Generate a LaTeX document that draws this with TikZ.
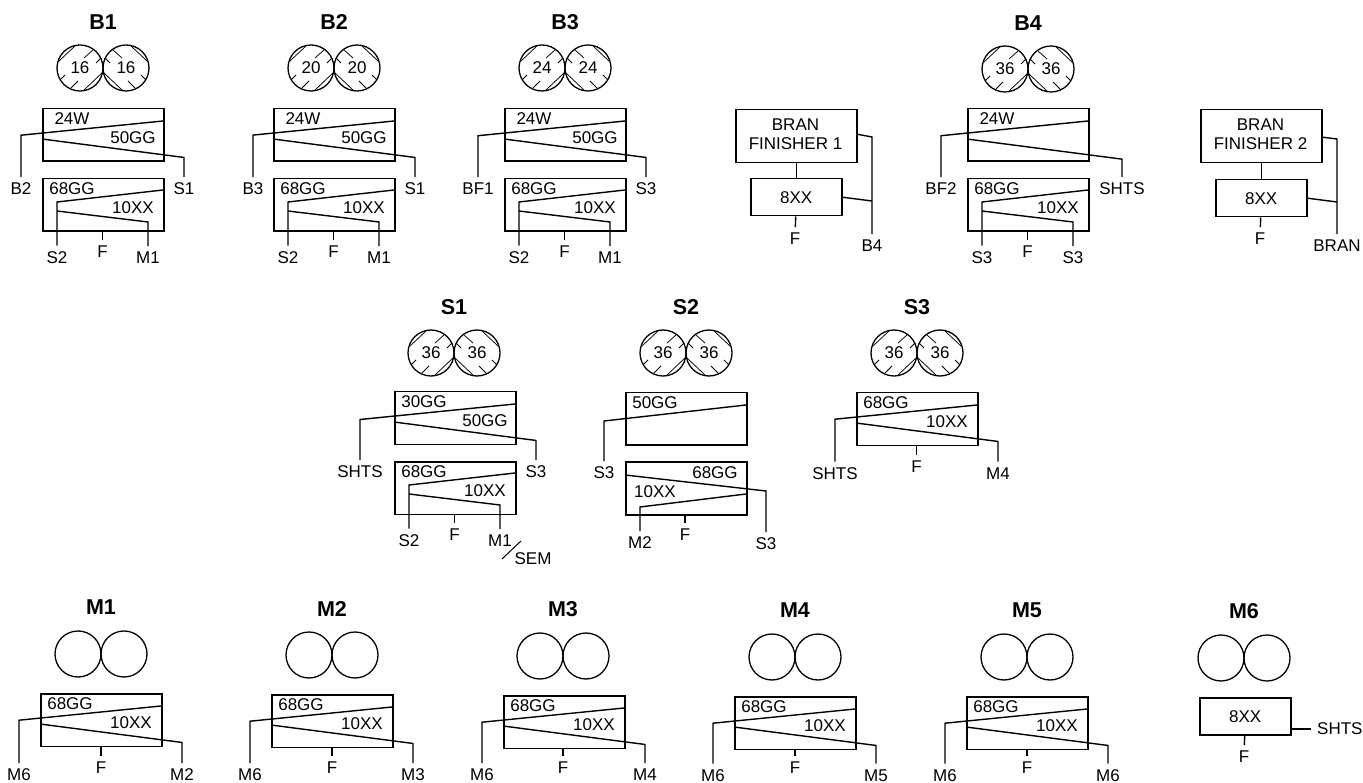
\documentclass[tikz,border=0pt]{standalone}
\usepackage{fontspec}
\setmainfont{Liberation Sans}
\usepackage{xcolor}
\tikzset{
  roll/.style={circle,draw=black,fill=none,line width=1.3pt,minimum size=46pt,inner sep=0pt,font=\fontsize{17}{19}\selectfont},
  hatch/.style={draw=black,line width=0.75pt},
  title/.style={inner sep=0pt,font=\fontsize{21.5}{23}\selectfont\bfseries},
  passbox/.style={draw=black,line width=1.5pt,anchor=north west,inner sep=0pt,minimum width=121pt},
  feed/.style={draw=black,line width=1.4pt},
  stream/.style={inner xsep=0pt,inner ysep=6pt,text height=11.5pt,text depth=0pt,font=\fontsize{17}{19}\selectfont},
  sieve/.style={inner sep=0pt,align=center,font=\fontsize{17}{19}\selectfont}
}
% rolls with their title, #3 is the point where they touch
\newcommand{\plainrolls}[3]{
  \begin{scope}[shift={(#3)}]
    \node[title] (#1title) at (0,-46.5) {#2};
    \node[roll] (#1l) at (-23,0) {};
    \node[roll] (#1r) at (23,0) {};
  \end{scope}}
\newcommand{\fluted}[4]{
  \begin{scope}[shift={(#3)}]
    \node[title] (#1title) at (0,-46) {#2};
    \node[roll] (#1l) at (-23,0) {#4};
    \node[roll] (#1r) at (23,0) {#4};
    \draw[hatch] (-44,-7)--(-28,-22) (-19,-10)--(-10,-18) (-7,-5)--(-2,-10)
      (-43,12)--(-38,7) (-32,20)--(-25,13) (-19,22)--(-1,5);
    \draw[hatch] (44,-7)--(28,-22) (19,-10)--(10,-18) (7,-5)--(2,-10)
      (43,12)--(38,7) (32,20)--(25,13) (19,22)--(1,5);
  \end{scope}}
% upper passage: one stream off each side, #8 and #9 are how far out they drop
\newcommand{\upperpass}[9]{
  \begin{scope}[shift={(#2)}]
    \node[passbox,minimum height=52.5pt] (#1) at (0,0) {};
    \node[sieve] (#1a) at (30,11) {#3};
    \node[sieve] (#1b) at (91,30) {#4};
    \coordinate (#1p) at (121,13);
    \coordinate (#1q) at (#8,{13+0.1*(121-(#8))});
    \coordinate (#1s) at (0,31);
    \coordinate (#1t) at (#9,{31+0.13*(#9)});
    \node[stream] (#1lo) at (#8,#7) {#5};
    \node[stream] (#1ro) at (#9,#7) {#6};
    \draw[feed] (#1p)--(#1q)--(#1lo.north);
    \draw[feed] (#1s)--(#1t)--(#1ro.north);
  \end{scope}}
% lower passage: both streams and the flour tick under the box
\newcommand{\lowerpass}[6]{
  \begin{scope}[shift={(#2)}]
    \node[passbox,minimum height=52.5pt] (#1) at (0,0) {};
    \node[sieve] (#1a) at (30,11) {#3};
    \node[sieve] (#1b) at (91,30) {#4};
    \coordinate (#1p) at (121,12);
    \coordinate (#1q) at (15,24);
    \coordinate (#1s) at (15,33);
    \coordinate (#1t) at (106,44);
    \node[stream] (#1lo) at (15,79.5) {#5};
    \node[stream] (#1ro) at (106,80) {#6};
    \node[stream] (#1f) at (60.5,74) {F};
    \draw[feed] (#1p)--(#1q)--(#1lo.north);
    \draw[feed] (#1s)--(#1t)--(#1ro.north);
    \draw[feed] (#1.south-|#1f)--(#1f.north);
  \end{scope}}
\begin{document}
\begin{tikzpicture}[x=1pt,y=-1pt]
  \useasboundingbox (0,0) rectangle (1363,783);
  % break rolls
  \fluted{bone}{B1}{103,68}{16}
  \fluted{btwo}{B2}{334,68}{20}
  \fluted{bthree}{B3}{565,68}{24}
  \fluted{bfour}{B4}{1028,69}{36}
  \upperpass{boneup}{42,108}{24W}{50GG}{B2}{S1}{81}{-21}{142}
  \lowerpass{bonelo}{42,178}{68GG}{10XX}{S2}{M1}
  \upperpass{btwoup}{273,108}{24W}{50GG}{B3}{S1}{81}{-20}{142}
  \lowerpass{btwolo}{273,178}{68GG}{10XX}{S2}{M1}
  \upperpass{bthreeup}{504,108}{24W}{50GG}{BF1}{S3}{81}{-26}{142}
  \lowerpass{bthreelo}{504,178}{68GG}{10XX}{S2}{M1}
  \upperpass{bfourup}{967,108}{24W}{}{BF2}{SHTS}{81}{-26}{155}
  \lowerpass{bfourlo}{967,178}{68GG}{10XX}{S3}{S3}
  % bran finishers
  \node[passbox,minimum height=53pt] (bfone) at (735,109) {};
  \node[sieve] (bfonetext) at (795.5,134) {BRAN\\FINISHER 1};
  \node[passbox,minimum width=91pt,minimum height=37pt] (bfonesc) at (750,178) {};
  \node[sieve] (bfonesctext) at (bfonesc.center) {8XX};
  \node[stream] (bfonef) at (795,239) {F};
  \node[stream] (bfoneo) at (872,246) {B4};
  \coordinate (bfonep) at (856,134);
  \coordinate (bfoneq) at (872,137);
  \coordinate (bfoner) at (841,197);
  \coordinate (bfones) at (872,201);
  \draw[feed] (bfone)--(bfonesc);
  \draw[feed] (bfonesc)--(bfonef);
  \draw[feed] (bfonep)--(bfoneq)--(bfoneo.north);
  \draw[feed] (bfoner)--(bfones);
  \node[passbox,minimum height=53pt] (bftwo) at (1200,109) {};
  \node[sieve] (bftwotext) at (1260.5,134.5) {BRAN\\FINISHER 2};
  \node[passbox,minimum width=91pt,minimum height=37pt] (bftwosc) at (1215,179) {};
  \node[sieve] (bftwosctext) at (bftwosc.center) {8XX};
  \node[stream] (bftwof) at (1260,239) {F};
  \node[stream] (bftwoo) at (1337,246) {BRAN};
  \coordinate (bftwop) at (1321,137);
  \coordinate (bftwoq) at (1337,139);
  \coordinate (bftwor) at (1306,198);
  \coordinate (bftwos) at (1337,202);
  \draw[feed] (bftwo)--(bftwosc);
  \draw[feed] (bftwosc)--(bftwof);
  \draw[feed] (bftwop)--(bftwoq)--(bftwoo.north);
  \draw[feed] (bftwor)--(bftwos);
  % sizing rolls
  \fluted{sone}{S1}{454,353}{36}
  \fluted{stwo}{S2}{686,353}{36}
  \fluted{sthree}{S3}{917,353}{36}
  \upperpass{soneup}{394,391}{30GG}{50GG}{SHTS}{S3}{81}{-34}{142}
  \lowerpass{sonelo}{394,461}{68GG}{10XX}{S2}{M1}
  \node[stream] (sem) at (533,559) {SEM};
  \coordinate (semp) at (502,559);
  \coordinate (semq) at (521,541);
  \draw[feed,line width=1pt] (semp)--(semq);
  \node[passbox,minimum height=52pt] (stwoup) at (625,392) {};
  \node[sieve] (stwoupa) at (655,403) {50GG};
  \node[stream] (stwolo) at (604,473) {S3};
  \coordinate (stwop) at (746,405);
  \coordinate (stwoq) at (604,421);
  \draw[feed] (stwop)--(stwoq)--(stwolo.north);
  \node[passbox,minimum height=53pt] (stwodn) at (625,461) {};
  \node[sieve] (stwodna) at (715,473) {68GG};
  \node[sieve] (stwodnb) at (655,492) {10XX};
  \node[stream] (stwodnl) at (640,543) {M2};
  \node[stream] (stwodnr) at (766,544) {S3};
  \node[stream] (stwodnf) at (685,535) {F};
  \coordinate (stwodnp) at (625,475);
  \coordinate (stwodnq) at (766,491);
  \coordinate (stwodns) at (746,494);
  \coordinate (stwodnt) at (640,507);
  \draw[feed] (stwodnp)--(stwodnq)--(stwodnr.north);
  \draw[feed] (stwodns)--(stwodnt)--(stwodnl.north);
  \draw[feed] (stwodn.south-|stwodnf)--(stwodnf.north);
  \upperpass{sthreeup}{856,392}{68GG}{10XX}{SHTS}{M4}{81.5}{-21}{142}
  \node[stream] (sthreef) at (916.5,467) {F};
  \draw[feed] (sthreeup.south-|sthreef)--(sthreef.north);
  % middlings rolls
  \foreach \n/\t/\m/\x/\y/\c/\o/\d in {mone/M1/101/40/693/654/M2/82,mtwo/M2/332/271/694/655/M3/81,
      mthree/M3/563/503/695/656/M4/80,mfour/M4/795/734/696/657/M5/79.5,mfive/M5/1027/966/696/657/M6/79.5}{
    \plainrolls{\n}{\t}{\m,\c}
    \upperpass{\n up}{\x,\y}{68GG}{10XX}{M6}{\o}{\d}{-21}{142}
    \node[stream] (\n f) at (\m,768) {F};
    \draw[feed] (\n up.south-|\n f)--(\n f.north);
  }
  \plainrolls{msix}{M6}{1244,658}
  \node[passbox,minimum width=91pt,minimum height=37pt] (msixsc) at (1199,697) {};
  \node[sieve] (msixsctext) at (msixsc.center) {8XX};
  \node[stream] (msixf) at (1244,757) {F};
  \node[stream,anchor=west] (msixo) at (1317,729) {SHTS};
  \coordinate (msixp) at (1290,729);
  \coordinate (msixq) at (1311,729);
  \draw[feed] (msixsc)--(msixf);
  \draw[feed] (msixp)--(msixq);
\end{tikzpicture}
\end{document}
